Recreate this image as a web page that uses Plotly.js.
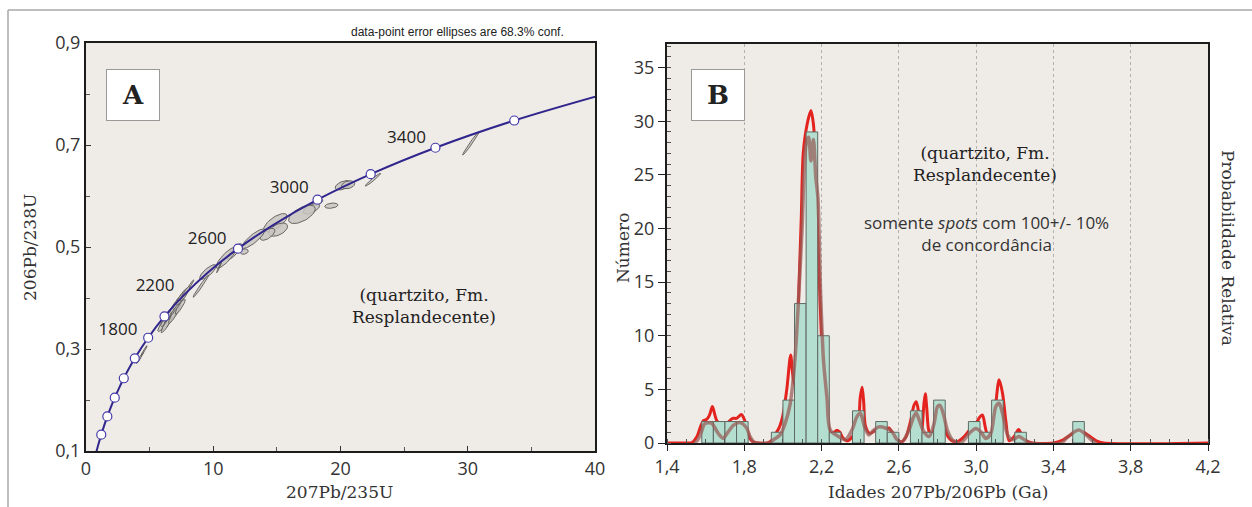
<!DOCTYPE html>
<html>
<head>
<meta charset="utf-8">
<script src="https://cdn.plot.ly/plotly-3.0.1.min.js"></script>
<style>html,body{margin:0;padding:0;background:#fff;}#chart{width:1252px;height:507px;}</style>
</head>
<body>
<div id="chart"></div>
<script>
// ---------- Panel A: concordia (reference values) ----------
const concAge = [600, 700, 800, 900, 1000, 1100, 1200, 1300, 1400, 1600, 1800, 2000, 2200, 2400, 2600, 2800, 3000, 3200, 3400, 3600, 3800];
const concX   = [0.8057, 0.9925, 1.1988, 1.4264, 1.6774, 1.9545, 2.2603, 2.5977, 2.9699, 3.8344, 4.8865, 6.1678, 7.7289, 9.6290, 11.9445, 14.7627, 18.1932, 22.373, 27.459, 33.655, 41.199];
const concY   = [0.0975, 0.1147, 0.1321, 0.1498, 0.1678, 0.1861, 0.2046, 0.2234, 0.2426, 0.2817, 0.3221, 0.3638, 0.4067, 0.4511, 0.4968, 0.5440, 0.5927, 0.6428, 0.6946, 0.7480, 0.8030];
const markAges = [800, 1000, 1200, 1400, 1600, 1800, 2000, 2600, 3000, 3200, 3400, 3600];
const labelAges = [1800, 2200, 2600, 3000, 3400];
const labelX = [2.52, 5.43, 9.52, 15.97, 25.18];
const labelY = [0.336, 0.4224, 0.5148, 0.615, 0.7113];

// error ellipses: centre (207/235, 206/238), half-extents, correlation
const ellCx  = [22.55, 20.2, 20.6, 19.28, 18.2, 17.72, 16.97, 14.89, 15.1, 14.26, 13.16, 12.43, 11.66, 11.0, 10.46, 9.58, 9.02, 8.22, 6.14, 6.37, 6.61, 6.85, 7.08, 7.32, 7.55, 7.79, 6.45, 7.0, 6.3, 6.9, 7.4, 4.25, 4.56, 30.25];
const ellCy  = [0.632, 0.621, 0.622, 0.581, 0.588, 0.575, 0.564, 0.5476, 0.534, 0.525, 0.5163, 0.491, 0.4908, 0.4788, 0.46, 0.4509, 0.423, 0.426, 0.3516, 0.3614, 0.3693, 0.3772, 0.387, 0.3948, 0.4027, 0.4086, 0.3536, 0.3732, 0.3470, 0.3660, 0.3830, 0.2828, 0.2966, 0.7034];
const ellSx  = [0.6, 0.62, 0.52, 0.52, 0.4, 0.64, 1.05, 0.92, 0.74, 0.58, 0.9, 0.32, 0.58, 0.78, 0.2, 0.65, 0.6, 0.25, 0.5, 0.5, 0.5, 0.5, 0.5, 0.5, 0.48, 0.38, 0.45, 0.45, 0.4, 0.42, 0.4, 0.28, 0.24, 0.65];
const ellSy  = [0.0125, 0.0092, 0.0078, 0.0052, 0.0066, 0.0106, 0.0180, 0.0180, 0.0130, 0.0118, 0.0190, 0.0052, 0.0158, 0.0205, 0.0105, 0.0145, 0.0215, 0.0095, 0.0175, 0.0175, 0.0175, 0.0175, 0.0175, 0.0175, 0.0170, 0.0145, 0.0160, 0.0160, 0.0150, 0.0155, 0.0150, 0.0112, 0.0100, 0.0230];
const ellRho = [0.97, 0.5, 0.3, 0.3, 0.5, 0.6, 0.6, 0.7, 0.5, 0.6, 0.85, 0.2, 0.85, 0.85, 0.97, 0.8, 0.98, 0.95, 0.9, 0.9, 0.9, 0.9, 0.9, 0.9, 0.9, 0.9, 0.88, 0.88, 0.9, 0.9, 0.9, 0.97, 0.97, 0.985];

// ---------- Panel B: histogram (bin width 0.06 Ga) ----------
const binWidth = 0.06;
const binStart = [1.58, 1.64, 1.70, 1.76, 1.94, 2.00, 2.06, 2.12, 2.18, 2.24, 2.36, 2.48, 2.54, 2.66, 2.72, 2.78, 2.96, 3.02, 3.08, 3.20, 3.50];
const binCount = [2, 2, 2, 2, 1, 4, 13, 29, 10, 1, 3, 2, 1, 3, 1, 4, 2, 1, 4, 1, 2];

// relative probability curve (red), read in histogram units
const probX = [1.40, 1.50, 1.53, 1.555, 1.575, 1.59, 1.605, 1.62, 1.635, 1.648, 1.66, 1.68, 1.70, 1.72, 1.74, 1.76, 1.785, 1.80, 1.815, 1.83, 1.85, 1.87, 1.92, 1.94, 1.96, 1.98, 2.00, 2.02, 2.04, 2.05, 2.06, 2.07, 2.08, 2.095, 2.105, 2.125, 2.145, 2.158, 2.17, 2.18, 2.192, 2.205, 2.22, 2.235, 2.25, 2.265, 2.28, 2.295, 2.31, 2.335, 2.36, 2.38, 2.392, 2.40, 2.41, 2.418, 2.427, 2.45, 2.48, 2.50, 2.525, 2.548, 2.565, 2.585, 2.61, 2.635, 2.66, 2.678, 2.69, 2.703, 2.718, 2.73, 2.737, 2.745, 2.756, 2.773, 2.79, 2.808, 2.825, 2.846, 2.868, 2.90, 2.938, 2.965, 2.998, 3.02, 3.033, 3.047, 3.064, 3.085, 3.102, 3.119, 3.137, 3.154, 3.171, 3.197, 3.22, 3.24, 3.258, 3.29, 3.40, 3.448, 3.492, 3.535, 3.578, 3.622, 3.66, 4.20];
const probY = [0, 0, 0.05, 0.6, 1.6, 2.1, 2.2, 2.6, 3.4, 2.6, 2.0, 1.8, 1.7, 2.0, 2.3, 2.3, 2.65, 2.2, 1.2, 0.4, 0.05, 0, 0, 0.2, 0.8, 1.4, 2.6, 5.0, 8.2, 6.5, 5.4, 6.8, 13, 21, 27, 29.7, 31.0, 29.7, 25.7, 19.5, 13.3, 7.7, 4.0, 1.6, 0.8, 1.0, 1.2, 1.0, 0.5, 0.2, 0.6, 1.2, 1.9, 4.2, 5.2, 3.8, 1.6, 0.9, 1.2, 1.4, 1.3, 1.4, 1.0, 0.5, 0.1, 0.5, 2.0, 3.5, 3.85, 2.8, 1.2, 3.7, 4.6, 3.1, 1.1, 0.75, 2.1, 3.4, 2.8, 0.9, 0.3, 0.1, 0.6, 1.2, 1.8, 2.45, 2.6, 1.5, 0.45, 0.6, 3.7, 5.9, 4.6, 2.0, 0.2, 0.6, 1.27, 0.6, 0.2, 0, 0, 0.28, 0.8, 1.2, 0.74, 0.2, 0, 0];

// smoothed density (brown), read in histogram units
const kdeX = [1.54, 1.56, 1.578, 1.596, 1.63, 1.665, 1.69, 1.717, 1.743, 1.778, 1.812, 1.83, 1.85, 1.87, 1.93, 1.951, 1.985, 2.011, 2.037, 2.063, 2.098, 2.12, 2.133, 2.145, 2.158, 2.17, 2.181, 2.195, 2.21, 2.228, 2.245, 2.288, 2.323, 2.357, 2.383, 2.40, 2.423, 2.444, 2.47, 2.496, 2.53, 2.565, 2.591, 2.617, 2.652, 2.678, 2.69, 2.704, 2.73, 2.756, 2.782, 2.80, 2.813, 2.834, 2.851, 2.877, 2.92, 2.964, 2.998, 3.024, 3.05, 3.076, 3.102, 3.119, 3.137, 3.163, 3.189, 3.22, 3.25, 3.28, 3.44, 3.466, 3.509, 3.535, 3.561, 3.596, 3.62];
const kdeY = [0, 0.3, 1.05, 1.8, 1.85, 0.9, 0.45, 1.05, 1.65, 1.9, 1.4, 0.6, 0.1, 0, 0, 0.3, 0.75, 1.8, 3.6, 8.0, 19.5, 27.9, 28.5, 26.3, 28.3, 24.8, 22.9, 14, 7.7, 4.2, 1.2, 0.6, 0.3, 1.2, 2.45, 2.8, 1.5, 0.75, 1.2, 1.5, 1.4, 1.05, 0.3, 0.1, 1.2, 2.5, 2.8, 2.2, 1.05, 0.6, 1.8, 3.4, 3.5, 2.45, 1.2, 0.3, 0, 0.9, 1.36, 1.05, 0.43, 0.9, 3.4, 3.7, 2.76, 0.74, 0.3, 0.6, 0.3, 0, 0, 0.43, 1.05, 1.2, 0.9, 0.3, 0];

// ---------- build traces ----------
const W = 1252, H = 507;
const px = v => v / W, py = v => 1 - v / H;
const traces = [];

function ellipsePts(cx, cy, sx, sy, rho) {
  const xs = [], ys = [], n = 48, k = Math.sqrt(1 - rho * rho);
  for (let i = 0; i <= n; i++) {
    const t = 2 * Math.PI * i / n;
    xs.push(cx + sx * Math.cos(t));
    ys.push(cy + sy * (rho * Math.cos(t) + k * Math.sin(t)));
  }
  return [xs, ys];
}
for (let i = 0; i < ellCx.length; i++) {
  const [xs, ys] = ellipsePts(ellCx[i], ellCy[i], ellSx[i], ellSy[i], ellRho[i]);
  traces.push({type: 'scatter', mode: 'lines', x: xs, y: ys, xaxis: 'x', yaxis: 'y',
    fill: 'toself', fillcolor: 'rgba(200,196,192,0.85)',
    line: {color: 'rgb(90,88,86)', width: 0.9}, hoverinfo: 'skip', showlegend: false});
}
traces.push({type: 'scatter', mode: 'lines', x: concX, y: concY, xaxis: 'x', yaxis: 'y',
  line: {color: 'rgb(48,38,140)', width: 2, shape: 'spline', smoothing: 1}, showlegend: false, hoverinfo: 'skip'});
const mX = markAges.map(a => concX[concAge.indexOf(a)]);
const mY = markAges.map(a => concY[concAge.indexOf(a)]);
traces.push({type: 'scatter', mode: 'markers', x: mX, y: mY, xaxis: 'x', yaxis: 'y', text: markAges.map(String),
  marker: {size: 9, color: '#ffffff', line: {color: 'rgb(70,60,170)', width: 1.2}}, showlegend: false});
traces.push({type: 'scatter', mode: 'text', x: labelX, y: labelY, xaxis: 'x', yaxis: 'y', text: labelAges.map(String),
  textfont: {family: 'Open Sans', size: 17, color: '#222'}, textposition: 'middle center', showlegend: false, hoverinfo: 'skip', cliponaxis: false});

// Panel B
traces.push({type: 'scatter', mode: 'lines', x: probX, y: probY, xaxis: 'x2', yaxis: 'y2',
  line: {color: 'rgb(228,34,30)', width: 3, shape: 'spline', smoothing: 0.8}, showlegend: false, cliponaxis: true});
traces.push({type: 'bar', x: binStart.map(s => s + binWidth / 2), y: binCount, width: binWidth, xaxis: 'x2', yaxis: 'y3',
  marker: {color: 'rgb(180,222,207)', line: {color: 'rgb(95,105,100)', width: 1}}, showlegend: false});
traces.push({type: 'scatter', mode: 'lines', x: kdeX, y: kdeY, xaxis: 'x2', yaxis: 'y3',
  line: {color: 'rgba(150,92,86,0.72)', width: 3.5, shape: 'spline', smoothing: 0.8}, showlegend: false});

const tickFont = {family: 'Open Sans', size: 18, color: '#333'};
const serif = 'DejaVu Serif';
const frame = {showline: true, mirror: true, linecolor: '#1c1c1c', linewidth: 2, zeroline: false};

function note(x, y, text, font, extra) {
  return Object.assign({xref: 'paper', yref: 'paper', x: px(x), y: py(y), text: text, showarrow: false,
    xanchor: 'center', yanchor: 'middle', font: font}, extra || {});
}

const layout = {
  width: W, height: H,
  margin: {l: 0, r: 0, t: 0, b: 0},
  paper_bgcolor: '#ffffff', plot_bgcolor: '#efebe7',
  separators: ',.',
  showlegend: false,
  xaxis: Object.assign({domain: [px(86), px(595)], range: [0, 40], anchor: 'y', dtick: 10, tick0: 0,
    ticks: 'inside', ticklen: 5, tickcolor: '#333', minor: {dtick: 5, ticks: 'inside', ticklen: 4, tickcolor: '#555'},
    showgrid: false, tickfont: tickFont}, frame),
  yaxis: Object.assign({domain: [py(451), py(43)], range: [0.1, 0.9], anchor: 'x', tick0: 0.1, dtick: 0.2, tickformat: '.1f',
    ticks: 'inside', ticklen: 5, tickcolor: '#333', minor: {dtick: 0.1, ticks: 'inside', ticklen: 4, tickcolor: '#555'},
    showgrid: false, tickfont: tickFont}, frame),
  xaxis2: Object.assign({domain: [px(667), px(1208)], range: [1.4, 4.2], anchor: 'y2', tick0: 1.4, dtick: 0.4, tickformat: '.1f',
    ticks: 'outside', ticklen: 6, tickcolor: '#222', minor: {dtick: 0.1, ticks: 'inside', ticklen: 4, tickcolor: '#555'},
    showgrid: true, gridcolor: 'rgba(130,130,130,0.55)', griddash: 'dot', gridwidth: 1, tickfont: tickFont}, frame),
  yaxis2: {domain: [py(443), py(44)], range: [0, 37.2], anchor: 'x2', side: 'right', showticklabels: false, ticks: '',
    showgrid: false, zeroline: false, showline: false},
  yaxis3: Object.assign({overlaying: 'y2', anchor: 'x2', side: 'left', range: [0, 37.2], dtick: 5, tick0: 0,
    ticks: 'outside', ticklen: 7, tickcolor: '#222', minor: {dtick: 1, ticks: 'inside', ticklen: 4, tickcolor: '#555'},
    showgrid: false, tickfont: tickFont}, frame),
  shapes: [
    {type: 'line', xref: 'paper', yref: 'paper', x0: px(8), x1: 1, y0: py(10), y1: py(10), line: {color: '#a8a8a8', width: 1.5}},
    {type: 'line', xref: 'paper', yref: 'paper', x0: px(8), x1: px(8), y0: py(10), y1: 0, line: {color: '#a8a8a8', width: 1.5}}
  ],
  annotations: [
    note(133, 95, 'A', {family: serif, size: 26, color: '#222', weight: 'bold'}, {width: 50, height: 48, bgcolor: '#ffffff', bordercolor: '#999', borderwidth: 1}),
    note(718, 95, 'B', {family: serif, size: 26, color: '#222', weight: 'bold'}, {width: 50, height: 48, bgcolor: '#ffffff', bordercolor: '#999', borderwidth: 1}),
    note(457, 32, 'data-point error ellipses are 68.3% conf.', {family: 'Liberation Sans Narrow, Liberation Sans', size: 12, color: '#222'}),
    note(424, 306, '(quartzito, Fm.<br>Resplandecente)', {family: serif, size: 17, color: '#222'}),
    note(985, 164, '(quartzito, Fm.<br>Resplandecente)', {family: serif, size: 17, color: '#222'}),
    note(986, 233, 'somente <i>spots</i> com 100+/- 10%<br>de concordância', {family: 'Open Sans', size: 17, color: '#333'}),
    note(30, 248, '206Pb/238U', {family: serif, size: 17, color: '#333'}, {textangle: -90}),
    note(340, 492, '207Pb/235U', {family: serif, size: 17, color: '#333'}),
    note(623, 248, 'Número', {family: serif, size: 17, color: '#333'}, {textangle: -90}),
    note(938, 492, 'Idades 207Pb/206Pb (Ga)', {family: serif, size: 17, color: '#333'}),
    note(1228, 248, 'Probabilidade Relativa', {family: serif, size: 17, color: '#333'}, {textangle: 90})
  ]
};

Plotly.newPlot('chart', traces, layout, {displayModeBar: false, staticPlot: true});
</script>
</body>
</html>
